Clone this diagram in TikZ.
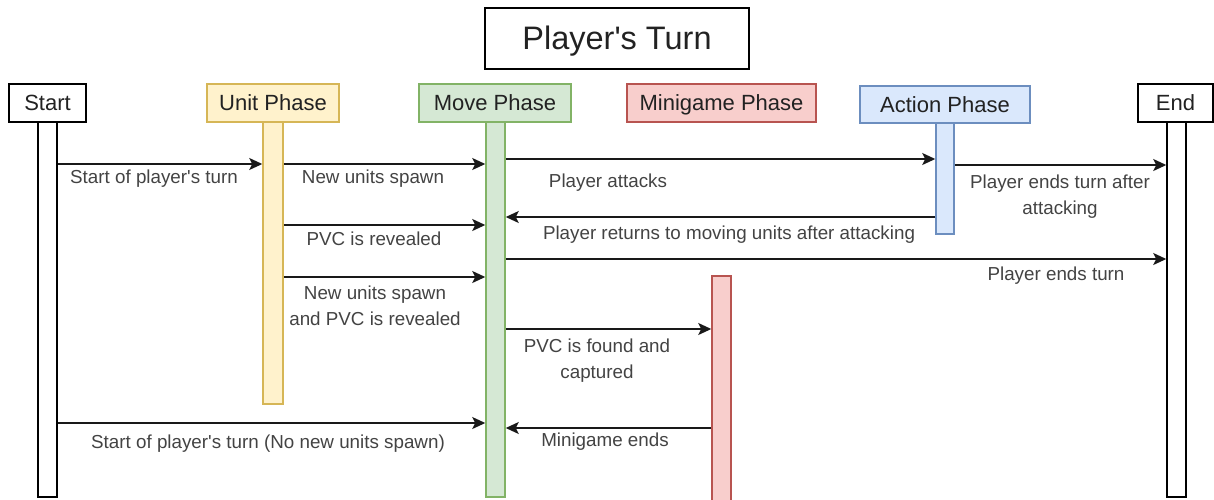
\documentclass[tikz,border=0pt]{standalone}
\usepackage{fontspec}
\setmainfont{Liberation Sans}
\usetikzlibrary{arrows.meta}
\definecolor{txt}{HTML}{222222}
\definecolor{ufill}{HTML}{FFF2CC}\definecolor{udraw}{HTML}{D6B656}
\definecolor{mfill}{HTML}{D5E8D4}\definecolor{mdraw}{HTML}{82B366}
\definecolor{gfill}{HTML}{F8CECC}\definecolor{gdraw}{HTML}{B85450}
\definecolor{afill}{HTML}{DAE8FC}\definecolor{adraw}{HTML}{6C8EBF}
\newcommand{\apo}{\textquotesingle}
\tikzset{
  box/.style={draw, line width=1.5pt, inner sep=0pt, minimum height=38pt, text=txt, text height=20pt, text depth=4.2pt, font=\fontsize{22}{26}\selectfont},
  life/.style={draw, line width=1.5pt, inner sep=0pt},
  msg/.style={line width=1.5pt, draw=black!90, -{Stealth[length=13pt,width=12pt,inset=3pt]}},
  lbl/.style={text=txt!85, inner sep=0pt, align=center, font=\fontsize{18.8}{26}\selectfont},
}
\begin{document}
\begin{tikzpicture}[x=1pt,y=-1pt]
\useasboundingbox (0,0) rectangle (1214,499);
% title
\node[draw, line width=1.5pt, minimum width=264pt, minimum height=61pt, inner sep=0pt, text=txt, text height=25.6pt, text depth=4pt, font=\fontsize{32.5}{36}\selectfont] (title) at (617,38.5) {Player\apo s Turn};
% lifelines
\node[life, fill=white, minimum width=19pt, minimum height=375pt] (startll) at (47.5,309.5) {};
\node[life, fill=ufill, draw=udraw, minimum width=20pt, minimum height=282pt] (unitll) at (273,263) {};
\node[life, fill=mfill, draw=mdraw, minimum width=19pt, minimum height=375pt] (movell) at (495.5,309.5) {};
\node[life, fill=gfill, draw=gdraw, minimum width=19pt, minimum height=229pt] (minill) at (721.5,390.5) {};
\node[life, fill=afill, draw=adraw, minimum width=18pt, minimum height=111pt] (actll) at (945,178.5) {};
\node[life, fill=white, minimum width=19pt, minimum height=375pt] (endll) at (1176.5,309.5) {};
% heads
\node[box, fill=white, minimum width=77pt] (startbox) at (47.5,103) {Start};
\node[box, fill=ufill, draw=udraw, minimum width=132pt] (unitbox) at (273,103) {Unit Phase};
\node[box, fill=mfill, draw=mdraw, minimum width=152pt] (movebox) at (495,103) {Move Phase};
\node[box, fill=gfill, draw=gdraw, minimum width=189pt] (minibox) at (721.5,103) {Minigame Phase};
\node[box, fill=afill, draw=adraw, minimum width=170pt, minimum height=37pt] (actbox) at (945,104.5) {Action Phase};
\node[box, fill=white, minimum width=75pt] (endbox) at (1175.5,103) {End};
% messages
\draw[msg] (startll.east |- 0,164) -- (unitll.west |- 0,164);
\draw[msg] (unitll.east |- 0,164) -- (movell.west |- 0,164);
\draw[msg] (unitll.east |- 0,225) -- (movell.west |- 0,225);
\draw[msg] (unitll.east |- 0,277) -- (movell.west |- 0,277);
\draw[msg] (movell.east |- 0,159) -- (actll.west |- 0,159);
\draw[msg] (actll.east |- 0,165) -- (endll.west |- 0,165);
\draw[msg] (actll.west |- 0,217) -- (movell.east |- 0,217);
\draw[msg] (movell.east |- 0,259) -- (endll.west |- 0,259);
\draw[msg] (movell.east |- 0,329) -- (minill.west |- 0,329);
\draw[msg] (minill.west |- 0,428) -- (movell.east |- 0,428);
\draw[msg] (startll.east |- 0,423) -- (movell.west |- 0,423);
% labels
\node[lbl] (l1) at (154,179) {Start of player\apo s turn};
\node[lbl] (l2) at (373,179) {New units spawn};
\node[lbl] (l3) at (374,239) {PVC is revealed};
\node[lbl] (l4) at (375,306) {New units spawn\\and PVC is revealed};
\node[lbl] (l5) at (608,183) {Player attacks};
\node[lbl] (l6) at (1060,197) {Player ends turn after\\attacking};
\node[lbl] (l7) at (729,235) {Player returns to moving units after attacking};
\node[lbl] (l8) at (1056,276) {Player ends turn};
\node[lbl] (l9) at (597,361) {PVC is found and\\captured};
\node[lbl] (l10) at (605,442) {Minigame ends};
\node[lbl] (l11) at (268,444) {Start of player\apo s turn (No new units spawn)};
\end{tikzpicture}
\end{document}
